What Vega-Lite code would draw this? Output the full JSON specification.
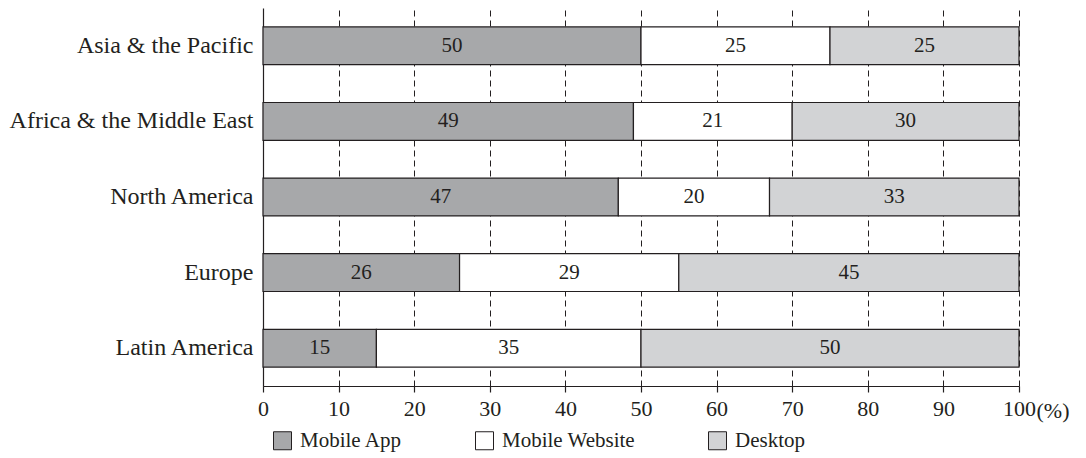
{
  "$schema": "https://vega.github.io/schema/vega-lite/v6.json",
  "width": 756,
  "height": 378,
  "autosize": {"type": "none"},
  "padding": {"left": 263, "top": 8, "right": 67, "bottom": 72},
  "background": "white",
  "config": {
    "view": {"stroke": null},
    "font": "Liberation Serif",
    "axis": {
      "labelFont": "Liberation Serif",
      "titleFont": "Liberation Serif",
      "labelColor": "#231f20",
      "titleColor": "#231f20",
      "domainColor": "#231f20",
      "tickColor": "#231f20"
    },
    "axisX": {"labelFontSize": 22, "titleFontSize": 22, "labelFlush": false},
    "axisY": {"labelFontSize": 24},
    "legend": {"labelFont": "Liberation Serif", "labelFontSize": 21}
  },
  "data": {
    "values": [
      {"region": "Asia & the Pacific", "type": "Mobile App", "order": 1, "value": 50},
      {"region": "Asia & the Pacific", "type": "Mobile Website", "order": 2, "value": 25},
      {"region": "Asia & the Pacific", "type": "Desktop", "order": 3, "value": 25},
      {"region": "Africa & the Middle East", "type": "Mobile App", "order": 1, "value": 49},
      {"region": "Africa & the Middle East", "type": "Mobile Website", "order": 2, "value": 21},
      {"region": "Africa & the Middle East", "type": "Desktop", "order": 3, "value": 30},
      {"region": "North America", "type": "Mobile App", "order": 1, "value": 47},
      {"region": "North America", "type": "Mobile Website", "order": 2, "value": 20},
      {"region": "North America", "type": "Desktop", "order": 3, "value": 33},
      {"region": "Europe", "type": "Mobile App", "order": 1, "value": 26},
      {"region": "Europe", "type": "Mobile Website", "order": 2, "value": 29},
      {"region": "Europe", "type": "Desktop", "order": 3, "value": 45},
      {"region": "Latin America", "type": "Mobile App", "order": 1, "value": 15},
      {"region": "Latin America", "type": "Mobile Website", "order": 2, "value": 35},
      {"region": "Latin America", "type": "Desktop", "order": 3, "value": 50}
    ]
  },
  "transform": [
    {"stack": "value", "groupby": ["region"], "sort": [{"field": "order", "order": "ascending"}], "as": ["x0", "x1"]},
    {"calculate": "(datum.x0 + datum.x1) / 2", "as": "labelPos"}
  ],
  "encoding": {
    "y": {
      "field": "region",
      "type": "nominal",
      "sort": null,
      "scale": {"paddingInner": 0.5, "paddingOuter": 0.25},
      "axis": {
        "title": null,
        "ticks": false,
        "domainWidth": 1.2,
        "labelPadding": 10,
        "labelLimit": 400
      }
    }
  },
  "layer": [
    {
      "mark": {"type": "bar", "stroke": "#231f20", "strokeWidth": 1.2, "opacity": 1},
      "encoding": {
        "x": {
          "field": "x0",
          "type": "quantitative",
          "scale": {"domain": [0, 100], "nice": false},
          "axis": {
            "values": [0, 10, 20, 30, 40, 50, 60, 70, 80, 90, 100],
            "grid": true,
            "gridColor": "#231f20",
            "gridDash": [6, 4],
            "gridWidth": 1,
            "gridOpacity": 1,
            "domainWidth": 1.2,
            "tickSize": 6,
            "tickWidth": 1.2,
            "labelPadding": 6,
            "labelFlush": false,
            "title": "(%)",
            "titleFontWeight": "normal",
            "titleAnchor": "start",
            "titleAlign": "left",
            "titleBaseline": "alphabetic",
            "titleX": 773,
            "titleY": 31
          }
        },
        "x2": {"field": "x1"},
        "fill": {
          "field": "type",
          "type": "nominal",
          "sort": ["Mobile App", "Mobile Website", "Desktop"],
          "scale": {"domain": ["Mobile App", "Mobile Website", "Desktop"], "range": ["#a7a8aa", "#ffffff", "#d2d3d5"]},
          "legend": {
            "title": null,
            "orient": "none",
            "direction": "horizontal",
            "legendX": 9,
            "legendY": 422,
            "padding": 0,
            "symbolType": "square",
            "symbolSize": 324,
            "symbolStrokeColor": "#231f20",
            "symbolStrokeWidth": 1,
            "symbolOpacity": 1,
            "labelColor": "#231f20",
            "labelOffset": 7,
            "columnPadding": 70,
            "labelLimit": 300
          }
        }
      }
    },
    {
      "mark": {"type": "text", "font": "Liberation Serif", "fontSize": 21, "color": "#231f20", "align": "center", "baseline": "middle"},
      "encoding": {
        "x": {"field": "labelPos", "type": "quantitative"},
        "text": {"field": "value", "type": "quantitative"}
      }
    }
  ]
}
